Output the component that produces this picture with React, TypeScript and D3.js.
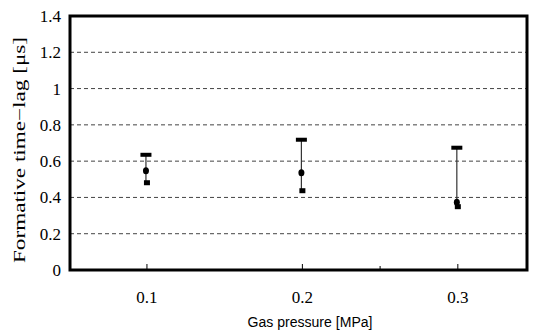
import React from "react";
import * as d3 from "d3";

const pressures = [0.1, 0.2, 0.3];
const maxVals = [0.635, 0.718, 0.674];
const meanVals = [0.547, 0.536, 0.373];
const minVals = [0.481, 0.437, 0.349];
const yTicks = [0, 0.2, 0.4, 0.6, 0.8, 1, 1.2, 1.4];
const yTickLabels = ["0", "0.2", "0.4", "0.6", "0.8", "1", "1.2", "1.4"];
const xTicks = [0.1, 0.2, 0.3];
const xTickLabels = ["0.1", "0.2", "0.3"];
const xMinorTicks = [0.25];

export default function App() {
  const W = 537, H = 331;
  const left = 70, right = 527, top = 16, bottom = 270;
  const x = d3.scaleLinear().domain([0.0505, 0.3445]).range([left, right]);
  const y = d3.scaleLinear().domain([0, 1.4]).range([bottom, top]);
  const serif = { fontFamily: "\"Liberation Serif\"" };
  const sans = { fontFamily: "\"Liberation Sans\"" };
  return (
    <svg width={W} height={H} style={{ position: "absolute", left: 0, top: 0 }}>
      <rect x={0} y={0} width={W} height={H} fill="#fff" />
      {yTicks.filter((v) => v > 0 && v < 1.4).map((v) => (
        <line key={v} x1={left} x2={right} y1={y(v)} y2={y(v)} stroke="#444" strokeWidth={1} strokeDasharray="4,3" />
      ))}
      {xTicks.map((v) => (
        <line key={v} x1={x(v)} x2={x(v)} y1={bottom} y2={bottom - 6} stroke="#000" strokeWidth={1} />
      ))}
      {xMinorTicks.map((v) => (
        <line key={v} x1={x(v)} x2={x(v)} y1={bottom} y2={bottom - 4} stroke="#000" strokeWidth={1} />
      ))}
      {pressures.map((p, i) => {
        const cx = x(p) - 1;
        return (
          <g key={p}>
            <line x1={cx} x2={cx} y1={y(maxVals[i])} y2={y(minVals[i])} stroke="#333" strokeWidth={1.2} />
            <rect x={cx - 5.5} y={y(maxVals[i]) - 2} width={11} height={4} fill="#000" />
            <ellipse cx={cx} cy={y(meanVals[i])} rx={3} ry={3.6} fill="#000" />
            <rect x={cx - 2} y={y(minVals[i]) - 2.5} width={6} height={5} fill="#000" />
          </g>
        );
      })}
      <rect x={left} y={top} width={right - left} height={bottom - top} fill="none" stroke="#000" strokeWidth={3} />
      {yTicks.map((v, i) => (
        <text key={v} x={61} y={y(v)} dy="0.35em" textAnchor="end" style={serif} fontSize={17} fill="#000">
          {yTickLabels[i]}
        </text>
      ))}
      {xTicks.map((v, i) => (
        <text key={v} x={x(v)} y={303} textAnchor="middle" style={serif} fontSize={17} fill="#000">
          {xTickLabels[i]}
        </text>
      ))}
      <text x={310} y={327} textAnchor="middle" style={sans} fontSize={14} fill="#000" textLength={125} lengthAdjust="spacingAndGlyphs">
        Gas pressure [MPa]
      </text>
      <text
        transform={`translate(25,${150}) rotate(-90)`}
        textAnchor="middle"
        style={serif}
        fontSize={16}
        fill="#000"
        textLength={226}
        lengthAdjust="spacingAndGlyphs"
      >
        Formative time−lag [μs]
      </text>
    </svg>
  );
}
